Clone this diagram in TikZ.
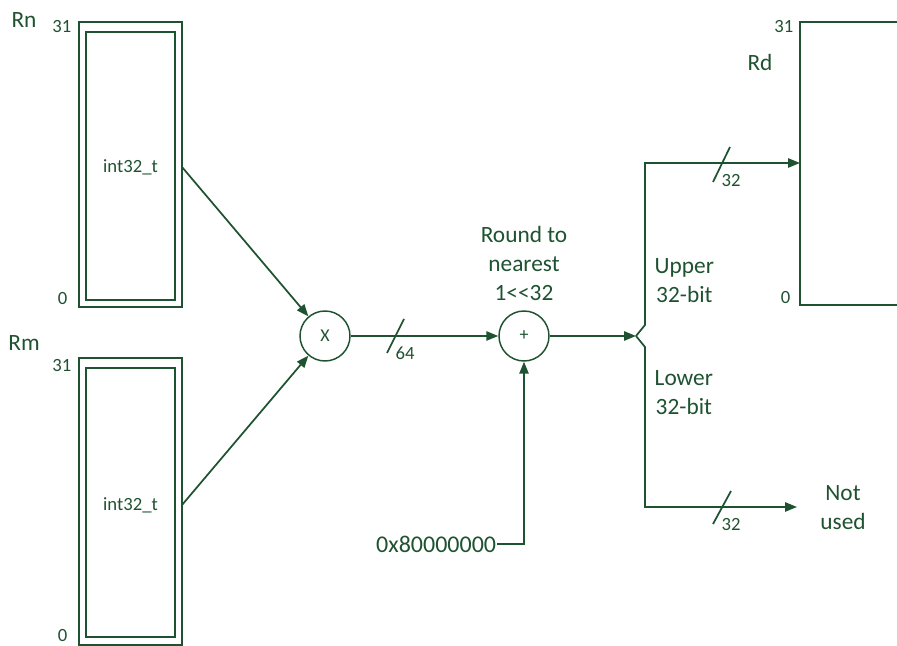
\documentclass[tikz,border=0pt]{standalone}
\usepackage{fontspec}
\setmainfont{Carlito}
\usetikzlibrary{arrows.meta}
\definecolor{dkgreen}{RGB}{30,82,48}
\tikzset{
  wire/.style={draw=dkgreen, line width=1.3pt},
  arr/.style={wire, -{Triangle[length=9pt,width=7pt]}},
  reg/.style={draw=dkgreen, line width=1.1pt},
  op/.style={circle, draw=dkgreen, line width=1.1pt, minimum size=37.5pt, inner sep=0pt, font=\fontsize{13.5}{15}\selectfont},
  big/.style={text=dkgreen, align=center, font=\fontsize{17.5}{21.75}\selectfont},
  bit/.style={text=dkgreen, font=\fontsize{14}{16}\selectfont},
  width/.style={text=dkgreen, font=\fontsize{14}{16}\selectfont}
}
\begin{document}
\begin{tikzpicture}[x=0.75pt, y=0.75pt]
  \useasboundingbox (0,0) rectangle (897,646);
  % Rn
  \draw[reg] (79,624) rectangle (182,339);
  \draw[reg] (86,614) rectangle (175,346);
  \node[big] (rnlab) at (24,626) {Rn};
  \node[bit, anchor=east] (rnhi) at (76,619) {31};
  \node[bit, anchor=east] (rnlo) at (72,347.5) {0};
  \node[width] (rnval) at (130.5,479) {int32\_t};
  \coordinate (rnout) at (182,479);
  % Rm
  \draw[reg] (79,288) rectangle (182,1);
  \draw[reg] (86,278) rectangle (175,9);
  \node[big] (rmlab) at (24,303) {Rm};
  \node[bit, anchor=east] (rmhi) at (76,280) {31};
  \node[bit, anchor=east] (rmlo) at (72,10) {0};
  \node[width] (rmval) at (130.5,141) {int32\_t};
  \coordinate (rmout) at (182,141);
  % multiply and round
  \node[op, text=dkgreen] (mul) at (325,310) {X};
  \node[op, text=dkgreen] (add) at (524,310) {+};
  \node[big] (round) at (524,383) {Round to\\nearest\\1<\kern0pt<32};
  \node[big, inner sep=0.5pt, anchor=east, font=\fontsize{18}{22}\selectfont] (const) at (497,102) {0x80000000};
  \draw[arr] (rnout) -- (mul);
  \draw[arr] (rmout) -- (mul);
  \draw[arr] (mul) -- (add);
  \draw[wire] (387,293) -- (404,327);
  \node[width] (w64) at (405,293) {64};
  \draw[arr] (const.east) -| (add.south);
  % split
  \coordinate (split) at (636,310);
  \coordinate (rdin) at (800,483);
  \coordinate (lowend) at (797,139);
  \draw[arr] (add) -- (split);
  \draw[arr] (split) -- ++(9,11) |- (rdin);
  \draw[arr] (split) -- ++(9,-11) |- (lowend);
  \draw[wire] (713,464) -- (730,499);
  \draw[wire] (713,122) -- (731,155);
  \node[width] (wup) at (731,465) {32};
  \node[width] (wlow) at (731,121) {32};
  \node[big, anchor=west] (upper) at (650,365.5) {Upper\\32-bit};
  \node[big, anchor=west] (lower) at (650,253) {Lower\\32-bit};
  \node[big] (notused) at (843,138.5) {Not\\used};
  % Rd
  \draw[reg] (897,624) -- (800,624) -- (800,341) -- (897,341);
  \node[big] (rdlab) at (760,584) {Rd};
  \node[bit, anchor=east] (rdhi) at (798,619) {31};
  \node[bit, anchor=east] (rdlo) at (795,348) {0};
\end{tikzpicture}
\end{document}
